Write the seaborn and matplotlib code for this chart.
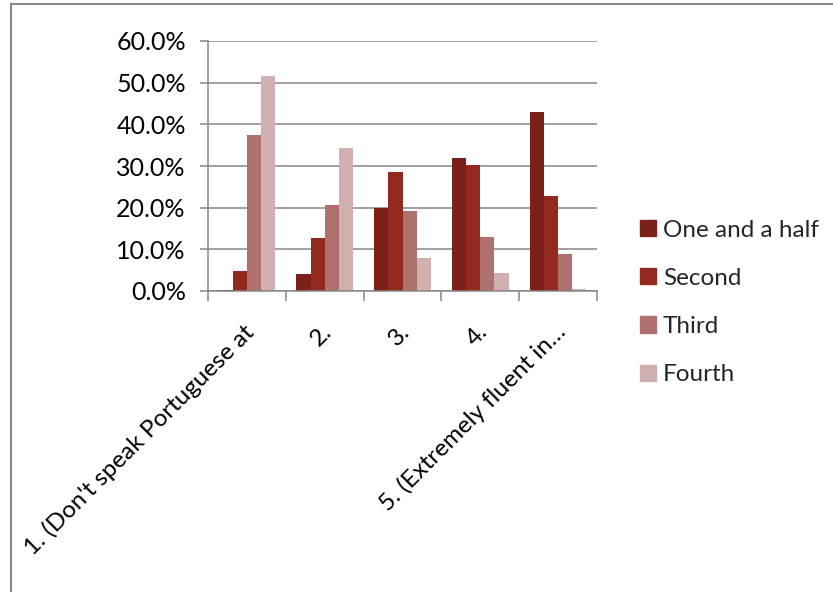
import matplotlib
matplotlib.use("Agg")
import matplotlib.pyplot as plt
import matplotlib.transforms as mtransforms
import seaborn as sns
import pandas as pd
from matplotlib.patches import Rectangle
from matplotlib.ticker import FuncFormatter, FixedLocator

categories = ["1. (Don't speak Portuguese at", "2.", "3.", "4.", "5. (Extremely fluent in\u2026"]
series_names = ["One and a half", "Second", "Third", "Fourth"]
one_and_half = [0.2, 4.1, 20.0, 32.0, 42.9]
second = [4.9, 12.7, 28.6, 30.2, 22.8]
third = [37.4, 20.7, 19.1, 13.0, 9.0]
fourth = [51.7, 34.4, 8.0, 4.3, 0.6]
yticks = [0, 10, 20, 30, 40, 50, 60]
colors = ["#7b2119", "#922a1f", "#af716d", "#d0afaf"]

rows = []
for name, vals in zip(series_names, [one_and_half, second, third, fourth]):
    for c, v in zip(categories, vals):
        rows.append({"cat": c, "series": name, "value": v})
df = pd.DataFrame(rows)

sns.set_theme(style="white")
plt.rcParams['font.family'] = ['Lato', 'DejaVu Sans']

fig = plt.figure(figsize=(8.33, 5.92), dpi=100)
ax = fig.add_axes([208/833, 1-291/592, (597-208)/833, (291-41)/592])

sns.barplot(data=df, x="cat", y="value", hue="series", order=categories,
            hue_order=series_names, palette=colors, width=0.73, saturation=1,
            linewidth=0, ax=ax, legend=False)

ax.set_ylim(0, 60)
ax.set_xlim(-0.5, 4.5)
ax.yaxis.set_major_locator(FixedLocator(yticks))
ax.yaxis.set_major_formatter(FuncFormatter(lambda v, p: f"{v:.1f}%"))
ax.grid(axis="y", color="#868686", linewidth=1.1)
ax.set_axisbelow(True)
for s in ["top", "right"]:
    ax.spines[s].set_visible(False)
for s in ["left", "bottom"]:
    ax.spines[s].set_color("#868686")
    ax.spines[s].set_linewidth(1.1)
ax.set_xlabel("")
ax.set_ylabel("")

ax.tick_params(axis="y", which="major", length=6, width=1.1, color="#868686",
               direction="out", left=True, labelsize=18, labelcolor="black", pad=10)
ax.set_xticks(range(len(categories)))
ax.set_xticks([i - 0.5 for i in range(len(categories) + 1)], minor=True)
ax.tick_params(axis="x", which="minor", length=7, width=1.1, color="#868686",
               direction="out", bottom=True)
ax.tick_params(axis="x", which="major", length=0, labelsize=17.5, labelcolor="black", pad=27)
ax.set_xticklabels(categories, rotation=45, ha="right", va="center", rotation_mode="anchor")
offset = mtransforms.ScaledTranslation(4/100, 0, fig.dpi_scale_trans)
for lab in ax.get_xticklabels():
    lab.set_transform(lab.get_transform() + offset)

handles = [Rectangle((0, 0), 1, 1, color=c) for c in colors]
fig.legend(handles, series_names, loc="center left", bbox_to_anchor=(640/833, 1-302.5/592),
           frameon=False, fontsize=17.5, handlelength=0.65, handleheight=0.65,
           handletextpad=0.3, labelspacing=1.12, borderpad=0, borderaxespad=0)

fig.patches.append(Rectangle((11/833, -0.1), 1.2, 1.1 - 4/592, transform=fig.transFigure,
                             fill=False, edgecolor="#888888", linewidth=1.5))

fig.savefig("out.png", dpi=100)
